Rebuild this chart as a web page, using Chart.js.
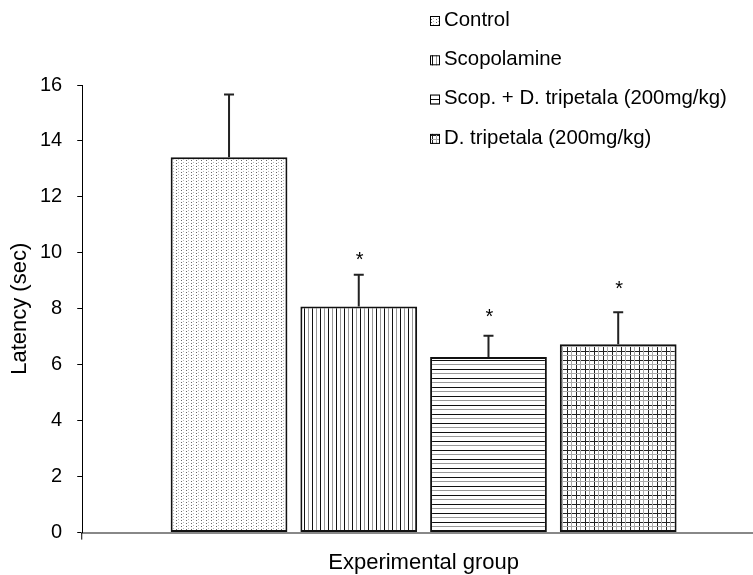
<!DOCTYPE html>
<html>
<head>
<meta charset="utf-8">
<script src="https://cdn.jsdelivr.net/npm/chart.js@4"></script>
<style>
    body { margin: 0; background: #fff; overflow: hidden; }
</style>
</head>
<body>
<!-- canvas is a bit wider than the window: the x axis runs off the right edge -->
<canvas id="myChart" width="765" height="575"></canvas>
<script>
// Data
const groups = ['Control', 'Scopolamine', 'Scop. + D. tripetala (200mg/kg)', 'D. tripetala (200mg/kg)'];
const latency = [13.42, 8.08, 6.28, 6.73];
const errUp = [2.24, 1.14, 0.76, 1.15];
const sigMarks = ['', '*', '*', '*'];
const sigLevel = [0, 9.9, 7.85, 8.85];
const yTicks = [0, 2, 4, 6, 8, 10, 12, 14, 16];

const FONT = "'Liberation Sans', Arial, sans-serif";

// small hatch tiles for each group
function makePattern(kind) {
    const c = document.createElement('canvas');
    const g = c.getContext('2d');
    if (kind === 0) {
        c.width = 5; c.height = 3;
        g.fillStyle = '#fff'; g.fillRect(0, 0, 5, 3);
        g.fillStyle = '#666'; g.fillRect(1, 1, 1, 1);
        g.fillStyle = '#bbb'; g.fillRect(3, 0, 1, 1);
    } else if (kind === 1) {
        c.width = 8; c.height = 4;
        g.fillStyle = '#fff'; g.fillRect(0, 0, 8, 4);
        g.fillStyle = '#111'; g.fillRect(0, 0, 1, 4);
        g.fillStyle = '#999'; g.fillRect(4, 0, 1, 4);
    } else if (kind === 2) {
        c.width = 4; c.height = 9;
        g.fillStyle = '#fff'; g.fillRect(0, 0, 4, 9);
        g.fillStyle = '#111'; g.fillRect(0, 0, 4, 1);
        g.fillStyle = '#999'; g.fillRect(0, 4, 4, 1);
    } else {
        c.width = 9; c.height = 9;
        g.fillStyle = '#fff'; g.fillRect(0, 0, 9, 9);
        g.fillStyle = '#222'; g.fillRect(0, 0, 9, 1); g.fillRect(0, 0, 1, 9);
        g.fillStyle = '#aaa'; g.fillRect(0, 4, 9, 1); g.fillRect(4, 0, 1, 9);
    }
    return g.createPattern(c, 'repeat');
}

const ctx = document.getElementById('myChart').getContext('2d');
const patterns = groups.map((_, i) => makePattern(i));

// error bars, asterisks, y-axis overhang and the legend
const extras = {
    id: 'extras',
    afterDatasetsDraw(chart) {
        const c = chart.ctx;
        const y = chart.scales.y;
        c.save();
        c.strokeStyle = '#222';
        c.lineWidth = 2;
        groups.forEach((name, i) => {
            const bar = chart.getDatasetMeta(i).data[0];
            const top = y.getPixelForValue(latency[i] + errUp[i]);
            c.beginPath();
            c.moveTo(bar.x, bar.y);
            c.lineTo(bar.x, top);
            c.moveTo(bar.x - 5, top);
            c.lineTo(bar.x + 5, top);
            c.stroke();
            if (sigMarks[i]) {
                c.fillStyle = '#000';
                c.font = '20px ' + FONT;
                c.textAlign = 'center';
                c.textBaseline = 'alphabetic';
                c.fillText(sigMarks[i], bar.x + 1, y.getPixelForValue(sigLevel[i]) + 10);
            }
        });
        // y axis runs a little below the x axis
        c.strokeStyle = '#000';
        c.lineWidth = 1;
        c.beginPath();
        c.moveTo(y.right - 0.5, chart.chartArea.bottom);
        c.lineTo(y.right - 0.5, chart.chartArea.bottom + 7);
        c.stroke();

        // legend
        c.font = '20.4px ' + FONT;
        c.textAlign = 'left';
        c.textBaseline = 'middle';
        groups.forEach((name, i) => {
            const ly = 20 + 39.3 * i;
            c.fillStyle = patterns[i];
            c.fillRect(430, ly - 4, 10, 10);
            c.strokeStyle = '#000';
            c.lineWidth = 1;
            c.strokeRect(430.5, ly - 3.5, 9, 9);
            c.fillStyle = '#000';
            c.fillText(name, 444, ly);
        });
        c.restore();
    }
};

const myChart = new Chart(ctx, {
    type: 'bar',
    data: {
        labels: [''],
        datasets: groups.map((name, i) => ({
            label: name,
            data: [latency[i]],
            backgroundColor: patterns[i],
            borderColor: '#111',
            borderWidth: 2,
            borderSkipped: false,
            categoryPercentage: 0.76,
            barPercentage: 0.9
        }))
    },
    options: {
        responsive: false,
        animation: false,
        layout: { padding: { top: 85, left: 0, right: 0, bottom: 0 } },
        plugins: {
            legend: { display: false },
            tooltip: { enabled: false }
        },
        scales: {
            x: {
                grid: { display: true, drawOnChartArea: false, drawTicks: false },
                border: { color: '#888', width: 2 },
                ticks: { display: false },
                title: {
                    display: true,
                    text: 'Experimental group',
                    color: '#000',
                    font: { family: FONT, size: 22 },
                    padding: { top: 17, bottom: -1 }
                }
            },
            y: {
                min: 0,
                max: 16,
                afterBuildTicks: (axis) => { axis.ticks = yTicks.map(v => ({ value: v })); },
                grid: { drawOnChartArea: false, tickLength: 5, color: '#000' },
                border: { color: '#000', width: 1 },
                ticks: {
                    color: '#000',
                    padding: 15,
                    font: { family: FONT, size: 20 }
                },
                title: {
                    display: true,
                    text: 'Latency (sec)',
                    color: '#000',
                    font: { family: FONT, size: 22, lineHeight: 1 },
                    padding: { top: 8.5, bottom: -5.5 }
                }
            }
        }
    },
    plugins: [extras]
});
</script>
</body>
</html>
